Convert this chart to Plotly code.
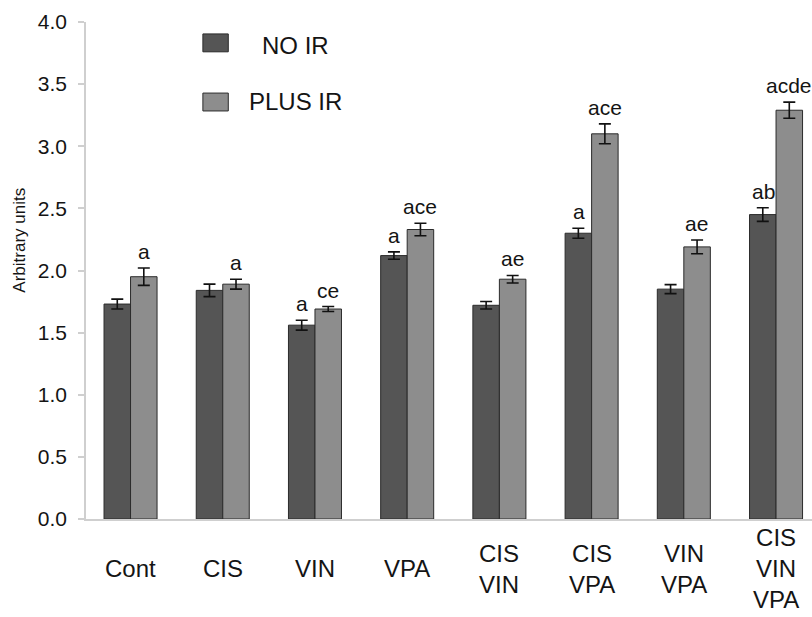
import plotly.graph_objects as go

# Treatment groups (rendered as stacked labels under each bar pair)
categories = ["Cont", "CIS", "VIN", "VPA", "CIS VIN", "CIS VPA", "VIN VPA", "CIS VIN VPA"]

# Mean response and error for each condition
no_ir = [1.73, 1.84, 1.56, 2.12, 1.72, 2.30, 1.85, 2.45]
no_ir_err = [0.04, 0.05, 0.04, 0.03, 0.03, 0.04, 0.036, 0.055]
plus_ir = [1.95, 1.89, 1.69, 2.33, 1.93, 3.10, 2.19, 3.29]
plus_ir_err = [0.07, 0.04, 0.02, 0.05, 0.03, 0.08, 0.055, 0.065]

# Significance letters above each bar
no_ir_letters = ["", "", "a", "a", "", "a", "", "ab"]
plus_ir_letters = ["a", "a", "ce", "ace", "ae", "ace", "ae", "acde"]

y_ticks = [0.0, 0.5, 1.0, 1.5, 2.0, 2.5, 3.0, 3.5, 4.0]

FONT = "Liberation Sans, Arial, Helvetica, sans-serif"
DARK = "#555555"
LIGHT = "#8d8d8d"
EDGE = "#2b2b2b"
AXIS = "#cfcfcf"
TEXT = "#141414"

fig = go.Figure()
fig.add_trace(go.Bar(
    name="NO IR", x=categories, y=no_ir,
    marker=dict(color=DARK, line=dict(color=EDGE, width=1)),
    error_y=dict(type="data", array=no_ir_err, color="#111111", thickness=1.6, width=6),
    showlegend=False,
))
fig.add_trace(go.Bar(
    name="PLUS IR", x=categories, y=plus_ir,
    marker=dict(color=LIGHT, line=dict(color=EDGE, width=1)),
    error_y=dict(type="data", array=plus_ir_err, color="#111111", thickness=1.6, width=6),
    showlegend=False,
))

annotations = []
# letters above bars, offset left/right to sit over each bar of the pair
for cat, v, e, lab in zip(categories, no_ir, no_ir_err, no_ir_letters):
    if lab:
        annotations.append(dict(x=cat, y=v + e, xref="x", yref="y", text=lab,
                                showarrow=False, xshift=-13, yanchor="bottom", yshift=3,
                                font=dict(size=21, color=TEXT, family=FONT)))
for cat, v, e, lab in zip(categories, plus_ir, plus_ir_err, plus_ir_letters):
    if lab:
        annotations.append(dict(x=cat, y=v + e, xref="x", yref="y", text=lab,
                                showarrow=False, xshift=13, yanchor="bottom", yshift=3,
                                font=dict(size=21, color=TEXT, family=FONT)))

# category labels, one word per line, centred vertically below the axis
for cat in categories:
    annotations.append(dict(x=cat, y=-0.100, xref="x", yref="paper",
                            text="<br>".join(cat.split()), showarrow=False,
                            xanchor="center", yanchor="middle", align="center",
                            font=dict(size=24, color=TEXT, family=FONT)))

# y-axis title
annotations.append(dict(x=(20 - 86) / 726, y=0.56, xref="paper", yref="paper",
                        xanchor="center", yanchor="middle", text="Arbitrary units",
                        textangle=-90, showarrow=False,
                        font=dict(size=17, color=TEXT, family=FONT)))

# legend: swatches with centred labels
shapes = [
    dict(type="rect", xref="paper", yref="paper", x0=0.161, x1=0.196, y0=0.940, y1=0.976,
         fillcolor=DARK, line=dict(color=EDGE, width=1)),
    dict(type="rect", xref="paper", yref="paper", x0=0.161, x1=0.196, y0=0.821, y1=0.857,
         fillcolor=LIGHT, line=dict(color=EDGE, width=1)),
]
annotations.append(dict(x=0.288, y=0.953, xref="paper", yref="paper", text="NO IR",
                        showarrow=False, xanchor="center", yanchor="middle",
                        font=dict(size=24, color=TEXT, family=FONT)))
annotations.append(dict(x=0.288, y=0.840, xref="paper", yref="paper", text="PLUS IR",
                        showarrow=False, xanchor="center", yanchor="middle",
                        font=dict(size=24, color=TEXT, family=FONT)))

fig.update_layout(
    width=812, height=617,
    margin=dict(l=86, r=0, t=22, b=98),
    paper_bgcolor="white", plot_bgcolor="white",
    barmode="group", bargap=0.425, bargroupgap=0,
    font=dict(family=FONT, color=TEXT),
    annotations=annotations, shapes=shapes,
    xaxis=dict(
        type="category", range=[-0.483, 7.39], showticklabels=False, ticks="",
        showline=True, linecolor=AXIS, linewidth=1.5, showgrid=False, zeroline=False,
    ),
    yaxis=dict(
        range=[0, 4.0], tickvals=y_ticks, ticktext=[f"{t:.1f}" for t in y_ticks],
        ticks="outside", ticklen=6, tickcolor=AXIS, tickwidth=1.5,
        showline=True, linecolor=AXIS, linewidth=1.5, showgrid=False, zeroline=False,
        tickfont=dict(size=21, color=TEXT, family=FONT), ticklabelstandoff=7,
    ),
)

fig.write_html("out.html")
